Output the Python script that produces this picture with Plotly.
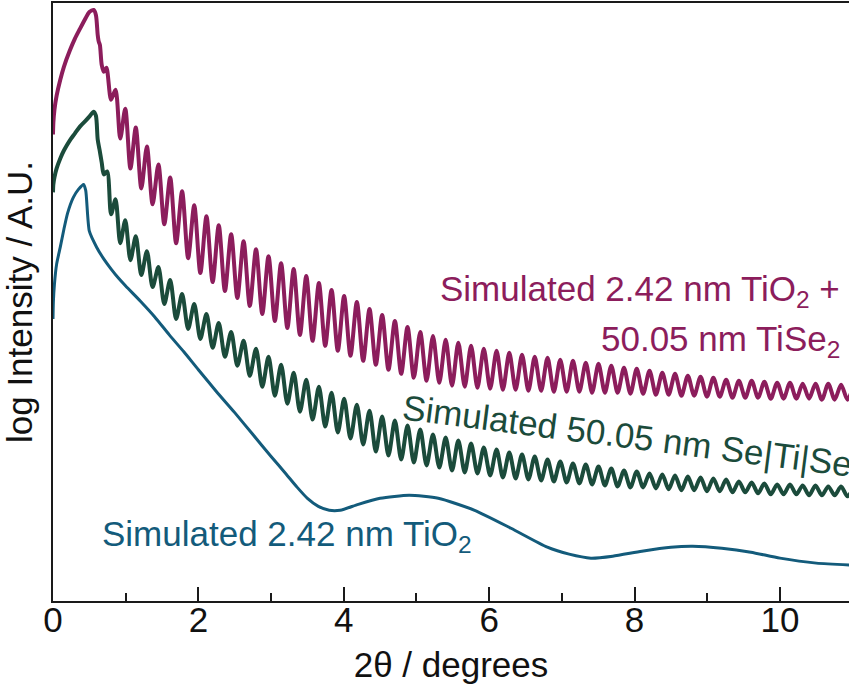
import plotly.graph_objects as go

# ---------------- data (log intensity in arbitrary units) ----------------
# Lead-in (total reflection region) of the two thick-film curves
lead_2theta = [0, 0.005, 0.02, 0.05, 0.1, 0.15, 0.23, 0.3, 0.37, 0.45, 0.5, 0.56,
               0.59, 0.615, 0.63, 0.645, 0.67, 0.70, 0.735]
lead_bilayer = [468, 480, 493, 507, 523, 536, 552, 564, 574, 585, 591, 593,
                588, 568, 561, 558, 538, 531, 535]

lead_2theta_g = [0, 0.005, 0.02, 0.05, 0.1, 0.15, 0.23, 0.3, 0.37, 0.45, 0.5, 0.56,
                 0.59, 0.615, 0.64, 0.67, 0.70, 0.745]
lead_selayer = [410, 418, 425, 434, 444, 452, 462, 469, 476, 482, 486, 491,
                487, 463, 453, 440, 428, 431]

# Kiessig fringe extrema positions (trough, peak, trough, peak ...)
fringe_2theta = [
    0.799, 0.860, 0.925, 0.994, 1.065, 1.139, 1.215, 1.292, 1.370, 1.450,
    1.531, 1.612, 1.694, 1.776, 1.859, 1.943, 2.027, 2.111, 2.196, 2.280,
    2.365, 2.451, 2.536, 2.622, 2.707, 2.793, 2.879, 2.965, 3.052, 3.138,
    3.224, 3.311, 3.397, 3.484, 3.571, 3.658, 3.745, 3.832, 3.918, 4.005,
    4.092, 4.180, 4.267, 4.354, 4.441, 4.528, 4.615, 4.703, 4.790, 4.877,
    4.964, 5.052, 5.139, 5.227, 5.314, 5.402, 5.489, 5.576, 5.664, 5.751,
    5.839, 5.926, 6.014, 6.102, 6.189, 6.277, 6.364, 6.452, 6.540, 6.627,
    6.715, 6.803, 6.890, 6.978, 7.066, 7.153, 7.241, 7.329, 7.416, 7.504,
    7.592, 7.680, 7.767, 7.855, 7.943, 8.030, 8.118, 8.206, 8.294, 8.382,
    8.469, 8.557, 8.645, 8.733, 8.820, 8.908, 8.996, 9.084, 9.172, 9.260,
    9.347, 9.435, 9.523, 9.611, 9.699, 9.786, 9.874, 9.962, 10.050, 10.138,
    10.226, 10.313, 10.401, 10.489, 10.577, 10.665, 10.753, 10.841, 10.929, 11.016,
]

bilayer_fringes = [
    503, 513, 464, 494, 434, 475, 414, 456, 398, 438,
    378, 425, 359, 411, 344, 397, 329, 386, 320, 377,
    311, 368, 304, 361, 296, 353, 288, 346, 281, 339,
    274, 333, 267, 326, 261, 319, 256, 312, 251, 306,
    246, 300, 241, 293, 237, 287, 232, 281, 228, 275,
    224, 270, 221, 266, 219, 262, 216, 259, 215, 256,
    214, 253, 213, 251, 212, 249, 212, 247, 211, 245,
    211, 244, 210, 242, 210, 241, 210, 239, 209, 238,
    209, 236, 209, 234, 208, 233, 208, 231, 207, 229,
    207, 228, 206, 226, 206, 225, 205, 224, 205, 222,
    204, 221, 204, 221, 204, 220, 203, 219, 203, 219,
    203, 218, 203, 218, 202, 218, 202, 217, 202, 217,
]

selayer_fringes = [
    388, 403, 359, 382, 342, 366, 327, 351, 315, 335,
    298, 322, 283, 308, 273, 298, 263, 288, 254, 279,
    245, 270, 236, 261, 226, 253, 215, 245, 206, 237,
    198, 229, 190, 222, 182, 215, 175, 209, 169, 203,
    163, 197, 157, 191, 150, 185, 146, 181, 142, 176,
    139, 172, 136, 167, 134, 164, 131, 161, 129, 158,
    128, 154, 126, 152, 124, 149, 123, 147, 122, 145,
    121, 142, 120, 140, 119, 138, 118, 137, 117, 135,
    116, 133, 115, 131, 114, 130, 114, 128, 113, 127,
    112, 126, 111, 125, 111, 124, 110, 123, 110, 122,
    109, 120, 109, 119, 108, 118, 107, 117, 107, 117,
    107, 116, 106, 116, 106, 115, 106, 115, 105, 114,
]

# Thin TiO2 film curve
tio2_2theta = [0, 0.005, 0.02, 0.05, 0.1, 0.15, 0.2, 0.28, 0.35, 0.42, 0.45, 0.5,
               0.6, 0.7, 0.8, 0.9, 1.0, 1.2, 1.4, 1.6, 1.8, 2.0, 2.25, 2.5, 2.75,
               3.0, 3.2, 3.36, 3.5, 3.65, 3.8, 3.95, 4.2, 4.5, 4.9, 5.3, 5.8, 6.3,
               6.8, 7.1, 7.4, 7.7, 8.1, 8.5, 8.8, 9.2, 9.6, 10.0, 10.5, 11.0]
tio2_int = [283, 300, 318, 338, 355, 373, 389, 405, 413, 418, 412, 371,
            355, 343, 333, 324, 316, 301, 285, 267, 250, 232, 210, 189, 167,
            145, 128, 114, 103, 95, 91, 91, 97, 103, 106, 103, 91, 73,
            54, 47, 43, 45, 50, 54, 55, 53, 49, 43, 38, 36]

x_ticks = [0, 2, 4, 6, 8, 10]
x_ticklabels = ["0", "2", "4", "6", "8", "10"]

label_bilayer_1 = "Simulated 2.42 nm TiO<sub>2</sub> +"
label_bilayer_2 = "50.05 nm TiSe<sub>2</sub>"
label_selayer = "Simulated 50.05 nm Se|Ti|Se"
label_tio2 = "Simulated 2.42 nm TiO<sub>2</sub>"

# ---------------- styling ----------------
C_MAG = "#8C1D5C"
C_GRN = "#1B4B3B"
C_BLU = "#135B7B"
FONT = "Liberation Sans, Arial, sans-serif"
FS = 35

fig = go.Figure()
fig.add_trace(go.Scatter(x=lead_2theta + fringe_2theta, y=lead_bilayer + bilayer_fringes,
                         mode="lines", line=dict(color=C_MAG, width=4, shape="spline", smoothing=0.8),
                         showlegend=False, hoverinfo="skip"))
fig.add_trace(go.Scatter(x=lead_2theta_g + fringe_2theta, y=lead_selayer + selayer_fringes,
                         mode="lines", line=dict(color=C_GRN, width=4, shape="spline", smoothing=0.8),
                         showlegend=False, hoverinfo="skip"))
fig.add_trace(go.Scatter(x=tio2_2theta, y=tio2_int,
                         mode="lines", line=dict(color=C_BLU, width=3, shape="spline", smoothing=0.6),
                         showlegend=False, hoverinfo="skip"))

fig.add_annotation(x=10.85, y=311, xref="x", yref="y", text=label_bilayer_1, showarrow=False,
                   xanchor="right", yanchor="middle", font=dict(family=FONT, size=FS, color=C_MAG))
fig.add_annotation(x=10.85, y=261, xref="x", yref="y", text=label_bilayer_2, showarrow=False,
                   xanchor="right", yanchor="middle", font=dict(family=FONT, size=FS, color=C_MAG))
fig.add_annotation(x=7.9, y=166, xref="x", yref="y", text=label_selayer, showarrow=False,
                   textangle=7.3, xanchor="center", yanchor="middle",
                   font=dict(family=FONT, size=FS, color=C_GRN))
fig.add_annotation(x=0.646, y=65, xref="x", yref="y", text=label_tio2, showarrow=False,
                   xanchor="left", yanchor="middle", font=dict(family=FONT, size=FS, color=C_BLU))

fig.update_layout(
    width=849, height=684,
    margin=dict(l=53, r=0, t=3, b=81),
    paper_bgcolor="white", plot_bgcolor="white",
    font=dict(family=FONT, size=FS, color="#111111"),
    xaxis=dict(range=[0, 10.95], showgrid=False, zeroline=False,
               showline=True, linecolor="#1a1a1a", linewidth=2, mirror=True,
               ticks="inside", ticklen=14, tickwidth=2, tickcolor="#1a1a1a",
               tickvals=x_ticks, ticktext=x_ticklabels, ticklabelstandoff=-13,
               tickfont=dict(family=FONT, size=FS, color="#111111"),
               minor=dict(ticks="inside", ticklen=8, tickwidth=2, tickcolor="#1a1a1a", dtick=1, tick0=0),
               title=dict(text="2θ / degrees", font=dict(family=FONT, size=FS, color="#111111"), standoff=20)),
    yaxis=dict(range=[0, 600], showgrid=False, zeroline=False,
               showline=True, linecolor="#1a1a1a", linewidth=2, mirror=False,
               ticks="", showticklabels=False,
               title=dict(text="log Intensity / A.U.", font=dict(family=FONT, size=FS, color="#111111"), standoff=11)),
)

fig.write_html("out.html")
